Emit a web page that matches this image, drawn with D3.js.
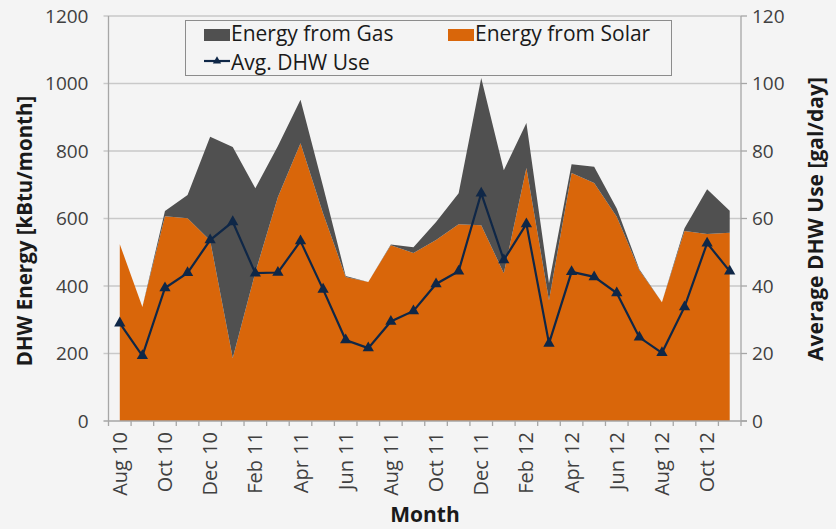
<!DOCTYPE html>
<html>
<head>
<meta charset="utf-8">
<script src="https://cdn.jsdelivr.net/npm/d3@7"></script>
<style>
  body { margin: 0; background: #f4f4f4; }
  svg { display: block; font-family: "Open Sans", Lato, sans-serif; }
</style>
</head>
<body>
<svg id="chart" width="836" height="529"></svg>
<script>
// monthly values
var months = ["Aug 10", "Sep 10", "Oct 10", "Nov 10", "Dec 10", "Jan 11", "Feb 11", "Mar 11",
  "Apr 11", "May 11", "Jun 11", "Jul 11", "Aug 11", "Sep 11", "Oct 11", "Nov 11", "Dec 11",
  "Jan 12", "Feb 12", "Mar 12", "Apr 12", "May 12", "Jun 12", "Jul 12", "Aug 12", "Sep 12",
  "Oct 12", "Nov 12"];
var solarEnergy = [524, 338, 607, 601, 535, 187, 440, 664, 823, 615, 427, 412, 521, 498,
  536, 583, 580, 438, 750, 358, 735, 705, 605, 447, 352, 563, 554, 558];
var gasEnergy = [0, 0, 15, 69, 307, 625, 250, 151, 129, 80, 3, 0, 2, 17,
  54, 92, 436, 305, 133, 50, 26, 48, 25, 3, 0, 8, 133, 65];
var dhwUse = [29, 19.3, 39.4, 43.9, 53.6, 59, 43.8, 44, 53.3, 39, 24, 21.6, 29.5, 32.6,
  40.6, 44.4, 67.5, 47.7, 58.4, 23, 44.2, 42.7, 37.9, 24.8, 20.2, 33.8, 52.7, 44.4];
var energyTicks = [0, 200, 400, 600, 800, 1000, 1200];
var useTicks = [0, 20, 40, 60, 80, 100, 120];

var colors = { gas: '#505050', solar: '#d9660a', line: '#0f2747', grid: '#c9c9c9', axis: '#a6a6a6' };
var m = { left: 108.5, right: 741, top: 16, bottom: 421 };

var svg = d3.select('#chart');
svg.append('rect').attr('width', 836).attr('height', 529).attr('fill', '#f4f4f4');

var x = d3.scaleBand().domain(months).range([m.left, m.right]).padding(0);
var xc = function(d) { return x(d) + x.bandwidth() / 2; };
var yL = d3.scaleLinear().domain([0, 1200]).range([m.bottom, m.top]);
var yR = d3.scaleLinear().domain([0, 120]).range([m.bottom, m.top]);

var rows = months.map(function(mo, i) {
  return { month: mo, solar: solarEnergy[i], gas: gasEnergy[i], use: dhwUse[i] };
});

// gridlines
svg.append('g').selectAll('line')
    .data(energyTicks.slice(1))
  .enter().append('line')
    .attr('x1', m.left - 5).attr('x2', m.right)
    .attr('y1', function(d) { return yL(d); })
    .attr('y2', function(d) { return yL(d); })
    .attr('stroke', colors.grid).attr('stroke-width', 1.3);

// stacked areas
var stack = d3.stack().keys(['solar', 'gas'])(rows);
var area = d3.area()
  .x(function(d) { return xc(d.data.month); })
  .y0(function(d) { return yL(d[0]); })
  .y1(function(d) { return yL(d[1]); });

svg.append('g').selectAll('path')
    .data(stack)
  .enter().append('path')
    .attr('d', area)
    .attr('fill', function(d) { return colors[d.key]; });

// axes
var axisG = svg.append('g').attr('fill', 'none');
axisG.append('line').attr('x1', m.left).attr('x2', m.left).attr('y1', m.top).attr('y2', m.bottom + 5)
  .attr('stroke', colors.axis).attr('stroke-width', 1.3);
axisG.append('line').attr('x1', m.right).attr('x2', m.right).attr('y1', m.top).attr('y2', m.bottom + 5)
  .attr('stroke', colors.axis).attr('stroke-width', 1.3);
axisG.append('line').attr('x1', m.left - 5).attr('x2', m.right + 6).attr('y1', m.bottom).attr('y2', m.bottom)
  .attr('stroke', colors.axis).attr('stroke-width', 1.3);

// x tick marks at band edges
axisG.selectAll('.xtick')
    .data(months.slice(1))
  .enter().append('line')
    .attr('x1', function(d) { return x(d); })
    .attr('x2', function(d) { return x(d); })
    .attr('y1', m.bottom).attr('y2', m.bottom + 5)
    .attr('stroke', colors.axis).attr('stroke-width', 1.3);

// right tick marks
axisG.selectAll('.rtick')
    .data(useTicks)
  .enter().append('line')
    .attr('x1', m.right).attr('x2', m.right + 6)
    .attr('y1', function(d) { return yR(d); })
    .attr('y2', function(d) { return yR(d); })
    .attr('stroke', colors.axis).attr('stroke-width', 1.3);

var labelFont = '"Open Sans", sans-serif';

var xAxis = d3.axisBottom(x)
  .tickValues(months.filter(function(d, i) { return i % 2 === 0; }))
  .tickSize(0).tickPadding(0);
var gx = svg.append('g').attr('transform', 'translate(0,' + m.bottom + ')').call(xAxis);
gx.select('.domain').remove();
gx.selectAll('text')
  .attr('transform', 'rotate(-90)')
  .attr('x', -11).attr('y', 0).attr('dy', '0.35em')
  .style('text-anchor', 'end')
  .attr('font-size', 20).attr('fill', '#404040').attr('font-family', labelFont);

var gl = svg.append('g').attr('transform', 'translate(' + m.left + ',0)')
  .call(d3.axisLeft(yL).tickValues(energyTicks).tickFormat(d3.format('d')).tickSize(0).tickPadding(20));
gl.select('.domain').remove();
gl.selectAll('text').attr('font-size', 19).attr('fill', '#404040').attr('font-family', labelFont);

var gr = svg.append('g').attr('transform', 'translate(' + m.right + ',0)')
  .call(d3.axisRight(yR).tickValues(useTicks).tickFormat(d3.format('d')).tickSize(0).tickPadding(11));
gr.select('.domain').remove();
gr.selectAll('text').attr('font-size', 19).attr('fill', '#404040').attr('font-family', labelFont);

// DHW use line with triangle markers
var line = d3.line()
  .x(function(d) { return xc(d.month); })
  .y(function(d) { return yR(d.use); });
svg.append('path').datum(rows)
  .attr('d', line).attr('fill', 'none')
  .attr('stroke', colors.line).attr('stroke-width', 2.2);

var tri = d3.symbol().type(d3.symbolTriangle).size(55);
svg.append('g').selectAll('path')
    .data(rows)
  .enter().append('path')
    .attr('d', tri)
    .attr('transform', function(d) { return 'translate(' + xc(d.month) + ',' + yR(d.use) + ')'; })
    .attr('fill', colors.line);

// titles
svg.append('text')
  .attr('transform', 'translate(32,231) rotate(-90)')
  .attr('text-anchor', 'middle').attr('font-weight', 'bold').attr('font-size', 20.5)
  .attr('fill', '#1a1a1a').text('DHW Energy [kBtu/month]');
svg.append('text')
  .attr('transform', 'translate(823,219) rotate(-90)')
  .attr('text-anchor', 'middle').attr('font-weight', 'bold').attr('font-size', 21)
  .attr('fill', '#1a1a1a').text('Average DHW Use [gal/day]');
svg.append('text')
  .attr('x', 425).attr('y', 522)
  .attr('text-anchor', 'middle').attr('font-weight', 'bold').attr('font-size', 21)
  .attr('fill', '#1a1a1a').text('Month');

// legend
var lg = svg.append('g');
lg.append('rect').attr('x', 185.5).attr('y', 20.5).attr('width', 486).attr('height', 55)
  .attr('fill', '#f4f4f4').attr('stroke', '#8c8c8c').attr('stroke-width', 1);
var legendItems = [
  { label: 'Energy from Gas', color: colors.gas, x: 204, y: 41, type: 'box' },
  { label: 'Energy from Solar', color: colors.solar, x: 448, y: 41, type: 'box' },
  { label: 'Avg. DHW Use', color: colors.line, x: 204, y: 70, type: 'line' }
];
legendItems.forEach(function(d) {
  if (d.type === 'box') {
    lg.append('rect').attr('x', d.x).attr('y', d.y - 12).attr('width', 26).attr('height', 12)
      .attr('fill', d.color);
  } else {
    lg.append('line').attr('x1', d.x).attr('x2', d.x + 26).attr('y1', d.y - 9).attr('y2', d.y - 9)
      .attr('stroke', d.color).attr('stroke-width', 2.2);
    lg.append('path').attr('d', d3.symbol().type(d3.symbolTriangle).size(30))
      .attr('transform', 'translate(' + (d.x + 13) + ',' + (d.y - 9) + ')').attr('fill', d.color);
  }
  lg.append('text').attr('x', d.x + 27).attr('y', d.y)
    .attr('font-size', 21).attr('fill', '#1a1a1a').attr('font-family', labelFont).text(d.label);
});
</script>
</body>
</html>
